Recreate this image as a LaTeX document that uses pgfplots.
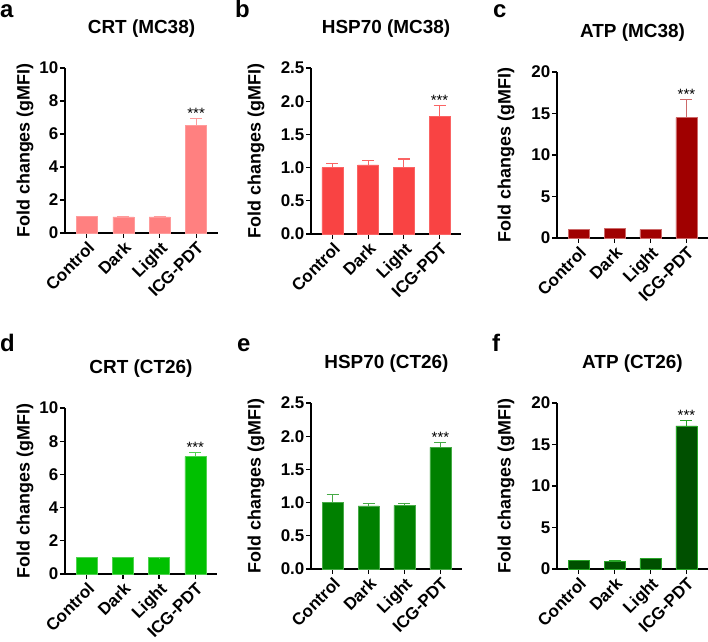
\documentclass[border=0pt]{standalone}
\usepackage{fontspec}
\setmainfont{Liberation Sans}
\usepackage{pgfplots}
\pgfplotsset{compat=1.18}
\usepackage{pgfplotstable}

\definecolor{ca}{RGB}{255,128,128} \definecolor{ea}{RGB}{255,155,155}
\definecolor{cb}{RGB}{249,67,67}   \definecolor{eb}{RGB}{250,100,100}
\definecolor{cc}{RGB}{160,0,0}     \definecolor{ec}{RGB}{205,105,105}
\definecolor{cd}{RGB}{0,192,0}     \definecolor{ed}{RGB}{80,210,80}
\definecolor{ce}{RGB}{0,128,0}     \definecolor{ee}{RGB}{70,170,70}
\definecolor{cf}{RGB}{0,80,0}      \definecolor{ef}{RGB}{40,165,40}

\pgfplotstableread{
x y e
0 1.00 0.02
1 0.98 0.02
2 0.98 0.02
3 6.53 0.42
}\tA
\pgfplotstableread{
x y e
0 1.00 0.065
1 1.04 0.07
2 1.00 0.13
3 1.77 0.17
}\tB
\pgfplotstableread{
x y e
0 1.00 0.03
1 1.12 0.03
2 1.00 0.03
3 14.5 2.15
}\tC
\pgfplotstableread{
x y e
0 1.00 0.02
1 1.00 0.02
2 0.98 0.01
3 7.07 0.26
}\tD
\pgfplotstableread{
x y e
0 1.00 0.12
1 0.95 0.03
2 0.96 0.02
3 1.83 0.07
}\tE
\pgfplotstableread{
x y e
0 1.00 0.03
1 0.95 0.03
2 1.25 0.03
3 17.25 0.60
}\tF

\pgfplotsset{
  panel/.style={
    scale only axis, height=166bp, width=152bp,
    axis x line*=bottom, axis y line*=left,
    xmin=-0.6, xmax=3.6, ymin=0,
    xtick={0,1,2,3}, xticklabels={Control,Dark,Light,ICG-PDT},
    tick align=outside, major tick length=5bp,
    tick style={black, line width=1.2bp},
    axis line style={black, line width=1.2bp},
    /pgf/number format/assume math mode=true,
    tick label style={font=\bfseries\fontsize{17}{18}\selectfont},
    xticklabel style={rotate=45, anchor=north east, inner sep=1.5bp},
    yticklabel style={inner sep=1.5bp},
    ylabel={Fold changes (gMFI)},
    ylabel style={font=\bfseries\fontsize{18}{19}\selectfont, at={([xshift=-#1]axis description cs:0,0.5)}, anchor=center},
    title style={font=\bfseries\fontsize{19}{20}\selectfont, at={([yshift=33bp]axis description cs:0.5,1)}, anchor=center},
    clip=false,
  },
  ten/.style={ymax=10, ytick={0,2,4,6,8,10}},
  half/.style={ymax=2.5, ytick={0,0.5,1,1.5,2,2.5},
    yticklabel style={/pgf/number format/fixed, /pgf/number format/fixed zerofill, /pgf/number format/precision=1}},
  twenty/.style={ymax=20, ytick={0,5,10,15,20}},
  bars/.style 2 args={ybar, bar width=21bp, fill=#1, draw=#2, line width=0.5bp,
    error bars/.cd, y dir=plus, y explicit,
    error bar style={color=#2, line width=1.1bp},
    error mark options={rotate=90, mark size=6bp, color=#2, line width=1.1bp}},
}
\newcommand{\stars}[1]{\node[font=\fontsize{15}{15}\selectfont, anchor=base] at (axis cs:3,#1) {***};}

\begin{document}
\begin{tikzpicture}
\useasboundingbox (0bp,0bp) rectangle (708bp,642bp);

% a
\begin{axis}[panel=40bp, ten, at={(65bp,409bp)}, anchor=south west, width=153bp, height=165bp, title={CRT (MC38)}]
\addplot[bars={ca}{ea}] table[x=x, y=y, y error=e] {\tA};
\stars{6.95}
\end{axis}
% b
\begin{axis}[panel=55bp, half, at={(311bp,408bp)}, anchor=south west, width=150bp, title={HSP70 (MC38)}]
\addplot[bars={cb}{eb}] table[x=x, y=y, y error=e] {\tB};
\stars{1.94}
\end{axis}
% c
\begin{axis}[panel=51bp, twenty, at={(557bp,404bp)}, anchor=south west, width=151bp, title={ATP (MC38)}]
\addplot[bars={cc}{ec}] table[x=x, y=y, y error=e] {\tC};
\stars{16.65}
\end{axis}
% d
\begin{axis}[panel=40bp, ten, at={(65bp,68bp)}, anchor=south west, width=152bp, title={CRT (CT26)}]
\addplot[bars={cd}{ed}] table[x=x, y=y, y error=e] {\tD};
\stars{7.33}
\end{axis}
% e
\begin{axis}[panel=55bp, half, at={(311bp,73bp)}, anchor=south west, width=151bp, title={HSP70 (CT26)}]
\addplot[bars={ce}{ee}] table[x=x, y=y, y error=e] {\tE};
\stars{1.90}
\end{axis}
% f
\begin{axis}[panel=51bp, twenty, at={(557bp,73bp)}, anchor=south west, width=151bp, title={ATP (CT26)}]
\addplot[bars={cf}{ef}] table[x=x, y=y, y error=e] {\tF};
\stars{17.85}
\end{axis}

\begin{scope}[every node/.style={font=\bfseries\fontsize{24}{24}\selectfont, anchor=base west, inner sep=0pt}]
\node at (0bp,624bp) {a};
\node at (235bp,624bp) {b};
\node at (493bp,624bp) {c};
\node at (0bp,290bp) {d};
\node at (237bp,290bp) {e};
\node at (492bp,290bp) {f};
\end{scope}
\end{tikzpicture}
\end{document}
